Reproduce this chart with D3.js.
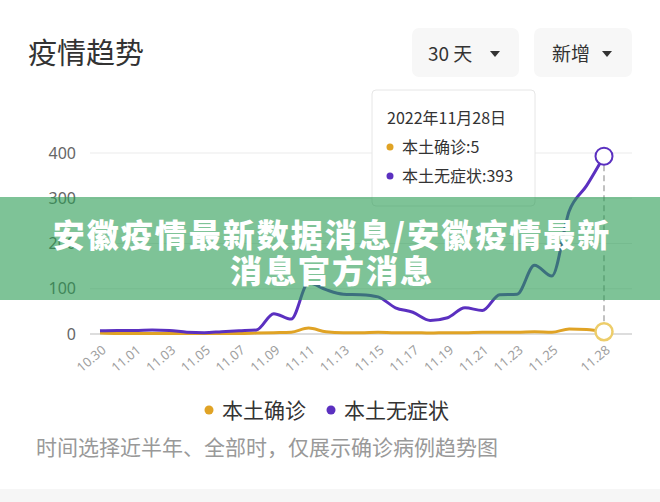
<!DOCTYPE html>
<html><head><meta charset="utf-8">
<script src="https://cdn.jsdelivr.net/npm/d3@7/dist/d3.min.js"></script>
<style>
html,body{margin:0;padding:0;background:#fff;}
svg{display:block;font-family:"Noto Sans CJK SC","Noto Sans",sans-serif;}
</style></head>
<body>
<svg id="c" width="660" height="502"></svg>
<script>
const dates = ["10.30","10.31","11.01","11.02","11.03","11.04","11.05","11.06","11.07","11.08","11.09","11.10","11.11","11.12","11.13","11.14","11.15","11.16","11.17","11.18","11.19","11.20","11.21","11.22","11.23","11.24","11.25","11.26","11.27","11.28"];
const confirmed = [2,1,1,1,1,1,1,1,1,2,3,4,13,5,3,3,4,3,3,2,3,3,4,4,4,5,4,11,10,5];
const asymptomatic = [7,8,8,9,8,4,3,5,7,9,45,33,113,98,88,87,82,58,48,30,36,58,52,87,88,152,128,272,328,393];
const tickLabels = ["10.30","11.01","11.03","11.05","11.07","11.09","11.11","11.13","11.15","11.17","11.19","11.21","11.23","11.25","11.28"];
const yTicks = [0,100,200,300,400];
const seriesNames = ["本土确诊","本土无症状"];
const colors = ["#e0a325","#5b30c0"];

const svg = d3.select("#c");
const x = d3.scalePoint().domain(dates).range([100,604]);
const y = d3.scaleLinear().domain([0,400]).range([334,153]);

// title
svg.append("text").attr("x",28).attr("y",64).attr("font-size",29).attr("fill","#333").text("疫情趋势");

// buttons
const btns = [{t:"30 天",x0:412,x1:519,tx:428,ax:495},{t:"新增",x0:534,x1:632,tx:552,ax:607}];
btns.forEach(b=>{
  svg.append("rect").attr("x",b.x0).attr("y",28).attr("width",b.x1-b.x0).attr("height",49).attr("rx",7).attr("fill","#f7f7f7");
  svg.append("text").attr("x",b.tx).attr("y",61).attr("font-size",19).attr("fill","#333").text(b.t);
  svg.append("path").attr("d",`M${b.ax-5},51 L${b.ax+5},51 L${b.ax},57 Z`).attr("fill","#333");
});

// grid
const g = svg.append("g");
g.selectAll("line.grid").data(yTicks.filter(d=>d>0)).join("line")
  .attr("x1",90).attr("x2",632).attr("y1",d=>y(d)).attr("y2",d=>y(d))
  .attr("stroke","#ebebeb").attr("stroke-width",1);
g.append("line").attr("x1",90).attr("x2",632).attr("y1",y(0)).attr("y2",y(0)).attr("stroke","#bbb").attr("stroke-width",1.2);
g.selectAll("text.yl").data(yTicks).join("text")
  .attr("x",76).attr("y",d=>y(d)).attr("dy","0.35em").attr("text-anchor","end")
  .attr("font-size",16).attr("fill","#666").attr("font-family","'Noto Sans',sans-serif").text(d=>d);

// x labels
g.selectAll("text.xl").data(tickLabels).join("text")
  .attr("transform",d=>`translate(${x(d)+4},${348}) rotate(-40)`)
  .attr("text-anchor","end").attr("dy","0.35em")
  .attr("font-size",13).attr("fill","#a0a0a0").attr("font-family","'Noto Sans',sans-serif").text(d=>d);

// dashed pointer
const last = dates[dates.length-1];
g.append("line").attr("x1",x(last)).attr("x2",x(last)).attr("y1",y(asymptomatic[29])+9).attr("y2",y(0))
  .attr("stroke","#999").attr("stroke-width",1.2).attr("stroke-dasharray","6,4");

// lines
const line = d3.line().x((d,i)=>x(dates[i])).y(d=>y(d)).curve(d3.curveMonotoneX);
[confirmed, asymptomatic].forEach((s,k)=>{
  g.append("path").attr("d",line(s)).attr("fill","none").attr("stroke",colors[k]).attr("stroke-width",3).attr("stroke-linejoin","round");
});
g.append("circle").attr("cx",x(last)).attr("cy",y(confirmed[29])).attr("r",8.5).attr("fill","#fff").attr("stroke","#edcd6a").attr("stroke-width",2.5);
g.append("circle").attr("cx",x(last)).attr("cy",y(asymptomatic[29])).attr("r",8.5).attr("fill","#fff").attr("stroke",colors[1]).attr("stroke-width",2);

// tooltip
const tt = svg.append("g");
tt.append("rect").attr("x",372).attr("y",90).attr("width",163).attr("height",116).attr("rx",4).attr("fill","#fff").attr("stroke","#e6e6e6");
tt.append("text").attr("x",387).attr("y",124).attr("font-size",16).attr("fill","#333").text("2022年11月28日");
[[seriesNames[0]+":"+confirmed[29],153],[seriesNames[1]+":"+asymptomatic[29],182]].forEach((r,k)=>{
  tt.append("circle").attr("cx",390).attr("cy",r[1]-6).attr("r",3.5).attr("fill",colors[k]);
  tt.append("text").attr("x",402).attr("y",r[1]).attr("font-size",16).attr("fill","#333").text(r[0]);
});

// legend
const lg = svg.append("g");
[[209,222],[331,344]].forEach((p,k)=>{
  lg.append("circle").attr("cx",p[0]).attr("cy",410).attr("r",4.5).attr("fill",colors[k]);
  lg.append("text").attr("x",p[1]).attr("y",418).attr("font-size",21).attr("fill","#333").text(seriesNames[k]);
});

// footnote
svg.append("text").attr("x",36).attr("y",455).attr("font-size",21).attr("fill","#999").text("时间选择近半年、全部时，仅展示确诊病例趋势图");
svg.append("rect").attr("x",0).attr("y",489).attr("width",660).attr("height",13).attr("fill","#f6f6f6");

// banner
const bn = svg.append("g");
bn.append("rect").attr("x",0).attr("y",197).attr("width",660).attr("height",103).attr("fill","rgb(40,155,82)").attr("opacity",0.6);
bn.append("text").attr("x",332).attr("y",247).attr("text-anchor","middle").attr("font-size",32).attr("letter-spacing",2).attr("font-weight",900).attr("fill","#fff").text("安徽疫情最新数据消息/安徽疫情最新");
bn.append("text").attr("x",332).attr("y",283).attr("text-anchor","middle").attr("font-size",32).attr("letter-spacing",2).attr("font-weight",900).attr("fill","#fff").text("消息官方消息");
</script>
</body></html>
